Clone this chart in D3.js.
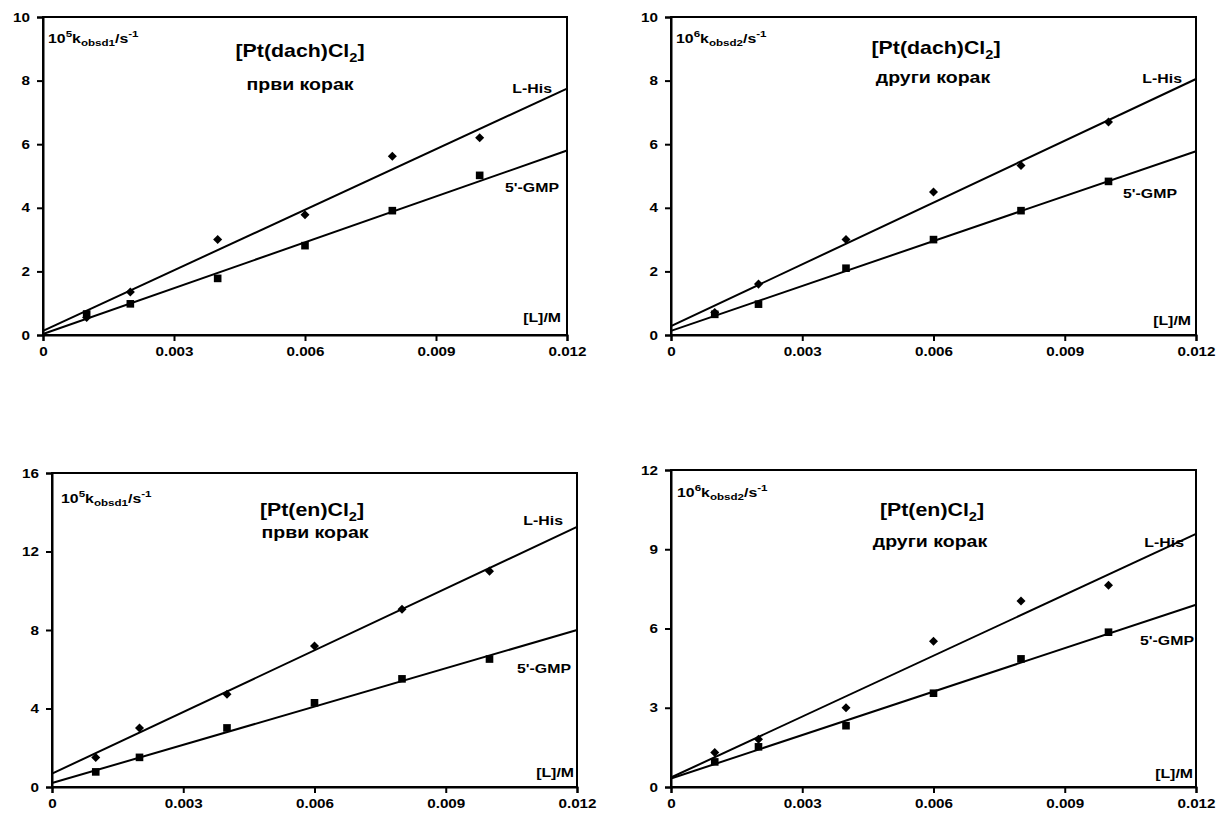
<!DOCTYPE html>
<html>
<head>
<meta charset="utf-8">
<script src="https://cdn.jsdelivr.net/npm/d3@7"></script>
<style>
  body { margin: 0; background: #fff; }
  svg { display: block; font-family: "Liberation Sans", Arial, sans-serif; font-weight: bold; }
</style>
</head>
<body>
<div class="chart-container"></div>
<script>
/********** the Data **********/
// ligand concentration [L]/M, same for every panel
const xVals = [0.001, 0.002, 0.004, 0.006, 0.008, 0.010];
const xTicks = [0, 0.003, 0.006, 0.009, 0.012];

// [Pt(dach)Cl2], first step (10^5 k_obsd1)
const dach1His = [0.55, 1.35, 3.0, 3.78, 5.62, 6.2];
const dach1Gmp = [0.66, 0.98, 1.78, 2.81, 3.91, 5.02];
// [Pt(dach)Cl2], second step (10^6 k_obsd2)
const dach2His = [0.71, 1.6, 3.0, 4.5, 5.33, 6.7];
const dach2Gmp = [0.65, 0.97, 2.1, 3.0, 3.91, 4.83];
// [Pt(en)Cl2], first step
const en1His = [1.5, 3.01, 4.73, 7.18, 9.06, 11.0];
const en1Gmp = [0.77, 1.51, 3.01, 4.29, 5.51, 6.52];
// [Pt(en)Cl2], second step
const en2His = [1.31, 1.81, 3.0, 5.52, 7.04, 7.64];
const en2Gmp = [0.95, 1.52, 2.32, 3.55, 4.85, 5.86];

// trend lines, value at [L] = 0 and at [L] = 0.012
const fitX = [0, 0.012];
const dach1HisFit = [0.13, 7.75];
const dach1GmpFit = [0.03, 5.8];
const dach2HisFit = [0.28, 8.05];
const dach2GmpFit = [0.13, 5.78];
const en1HisFit = [0.68, 13.25];
const en1GmpFit = [0.2, 8.0];
const en2HisFit = [0.36, 9.58];
const en2GmpFit = [0.32, 6.9];

// y tick labels
const dachTicks = [0, 2, 4, 6, 8, 10];
const en1Ticks = [0, 4, 8, 12, 16];
const en2Ticks = [0, 3, 6, 9, 12];

const panels = [
  {his: dach1His, gmp: dach1Gmp, hisFit: dach1HisFit, gmpFit: dach1GmpFit, yTicks: dachTicks,
   complex: "dach", step: "први корак", exp: "5", k: "obsd1"},
  {his: dach2His, gmp: dach2Gmp, hisFit: dach2HisFit, gmpFit: dach2GmpFit, yTicks: dachTicks,
   complex: "dach", step: "други корак", exp: "6", k: "obsd2"},
  {his: en1His, gmp: en1Gmp, hisFit: en1HisFit, gmpFit: en1GmpFit, yTicks: en1Ticks,
   complex: "en", step: "први корак", exp: "5", k: "obsd1"},
  {his: en2His, gmp: en2Gmp, hisFit: en2HisFit, gmpFit: en2GmpFit, yTicks: en2Ticks,
   complex: "en", step: "други корак", exp: "6", k: "obsd2"}
];

/***** layout of the four plot areas *****/
// label y values are centre lines of the texts
const boxes = [
  {left: 43, right: 567, top: 17, bottom: 335, labX: 5, labY: 26,
   titleX: 300, titleY: 51, stepX: 300, stepY: 86,
   hisY: 88, hisDx: 15, gmpY: 187, gmpDx: 8, lmY: 317, lmDx: 6},
  {left: 671, right: 1196, top: 17, bottom: 335, labX: 5, labY: 26,
   titleX: 936, titleY: 48, stepX: 933, stepY: 79,
   hisY: 78, hisDx: 14, gmpY: 193, gmpDx: 19, lmY: 320, lmDx: 5},
  {left: 52, right: 577, top: 473, bottom: 787, labX: 9, labY: 30,
   titleX: 312, titleY: 510, stepX: 315, stepY: 534,
   hisY: 520, hisDx: 14, gmpY: 668, gmpDx: 6, lmY: 772, lmDx: 3},
  {left: 671, right: 1196, top: 470, bottom: 787, labX: 6, labY: 27,
   titleX: 932, titleY: 510, stepX: 930, stepY: 543,
   hisY: 542, hisDx: 12, gmpY: 640, gmpDx: 2, lmY: 773, lmDx: 3}
];

// the original lettering is a little wider than Arial
const SX = 1.22;

const svg = d3.select(".chart-container")
  .append("svg")
    .attr("width", 1216)
    .attr("height", 820);

// text placed at (x, y) and stretched horizontally
function wideText(g, x, y, anchor, size) {
  return g.append("g")
      .attr("transform", `translate(${x}, ${y}) scale(${SX}, 1)`)
    .append("text")
      .attr("text-anchor", anchor)
      .style("font-size", size + "px");
}

function drawPanel(p, b) {
  let g = svg.append("g");

  let xScale = d3.scaleLinear()
    .domain([0, 0.012])
    .range([b.left, b.right]);
  let yScale = d3.scaleLinear()
    .domain([0, d3.max(p.yTicks)])
    .range([b.bottom, b.top]);

  // plot frame
  g.append("rect")
    .attr("x", b.left).attr("y", b.top)
    .attr("width", b.right - b.left).attr("height", b.bottom - b.top)
    .attr("fill", "none").attr("stroke", "#000").attr("stroke-width", 2);

  // axes
  let xAxis = d3.axisBottom(xScale)
    .tickValues(xTicks)
    .tickSize(6).tickPadding(6)
    .tickFormat(d => d === 0 ? "0" : d3.format(".3f")(d));
  let yAxis = d3.axisLeft(yScale)
    .tickValues(p.yTicks)
    .tickSize(6).tickPadding(7);

  g.append("g")
    .attr("transform", `translate(0, ${b.bottom})`)
    .call(xAxis);
  let yG = g.append("g")
    .attr("transform", `translate(${b.left}, 0)`)
    .call(yAxis);

  g.selectAll(".domain, .tick line")
    .attr("stroke", "#000").attr("stroke-width", 2);
  g.selectAll(".tick text")
    .attr("fill", "#000")
    .attr("transform", `scale(${SX}, 1)`)
    .style("font-family", "'Liberation Sans', Arial, sans-serif")
    .style("font-weight", "bold")
    .style("font-size", "12.5px");
  // keep the y labels' right edge where the axis put it
  yG.selectAll(".tick text").attr("x", -13 / SX);

  // trend lines
  let line = d3.line()
    .x(d => xScale(d[0]))
    .y(d => yScale(d[1]));
  [p.hisFit, p.gmpFit].forEach(fit => {
    g.append("path")
      .datum(fitX.map((x, i) => [x, fit[i]]))
      .attr("d", line)
      .attr("fill", "none")
      .attr("stroke", "#000")
      .attr("stroke-width", 2);
  });

  // L-His points: diamonds
  g.selectAll(".his")
    .data(xVals.map((x, i) => [x, p.his[i]]))
    .enter().append("path")
      .attr("class", "his")
      .attr("d", d3.symbol(d3.symbolDiamond2, 52)())
      .attr("transform", d => `translate(${xScale(d[0])}, ${yScale(d[1])})`)
      .attr("fill", "#000");

  // 5'-GMP points: squares
  g.selectAll(".gmp")
    .data(xVals.map((x, i) => [x, p.gmp[i]]))
    .enter().append("path")
      .attr("class", "gmp")
      .attr("d", d3.symbol(d3.symbolSquare, 58)())
      .attr("transform", d => `translate(${xScale(d[0])}, ${yScale(d[1])})`)
      .attr("fill", "#000");

  // y axis label with sub/superscripts
  let yl = wideText(g, b.left + b.labX, b.top + b.labY, "start", 13);
  yl.append("tspan").text("10");
  yl.append("tspan").text(p.exp).attr("dy", -6).style("font-size", "9.5px");
  yl.append("tspan").text("k").attr("dy", 6);
  yl.append("tspan").text(p.k).attr("dy", 3).style("font-size", "9.5px");
  yl.append("tspan").text("/s").attr("dy", -3);
  yl.append("tspan").text("-1").attr("dy", -6).style("font-size", "9.5px");

  // title
  let t = wideText(g, b.titleX, b.titleY + 6, "middle", 17.5);
  t.append("tspan").text(`[Pt(${p.complex})Cl`);
  t.append("tspan").text("2").attr("dy", 5).style("font-size", "12px");
  t.append("tspan").text("]").attr("dy", -5);

  wideText(g, b.stepX, b.stepY + 4, "middle", 16)
    .text(p.step);

  // series labels
  let lab = [
    {txt: "L-His", y: b.hisY, dx: b.hisDx},
    {txt: "5'-GMP", y: b.gmpY, dx: b.gmpDx},
    {txt: "[L]/M", y: b.lmY, dx: b.lmDx}
  ];
  lab.forEach(l => {
    wideText(g, b.right - l.dx, l.y + 5, "end", 13)
      .text(l.txt);
  });
}

panels.forEach((p, i) => drawPanel(p, boxes[i]));
</script>
</body>
</html>
